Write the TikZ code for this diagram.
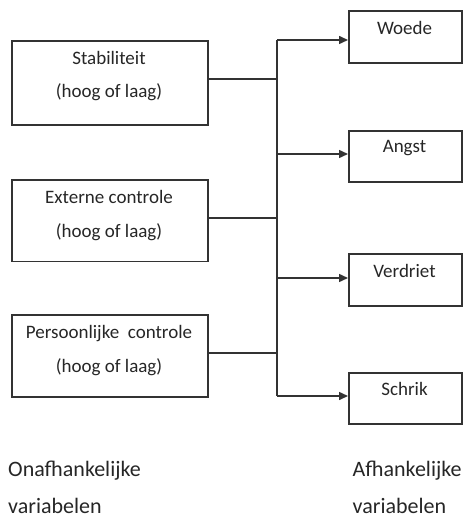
\documentclass[tikz,border=0pt]{standalone}
\usepackage{fontspec}
\setmainfont{Carlito}
\usetikzlibrary{arrows.meta}
\tikzset{
  box/.style={draw=black!80, line width=1.7pt, inner sep=0pt, anchor=north west, minimum width=#1},
  lbl/.style={anchor=base, inner sep=0pt, text=black!85, font=\fontsize{19}{19}\selectfont},
  captxt/.style={anchor=base west, inner sep=0pt, text=black!85, font=\fontsize{22}{22}\selectfont},
  conn/.style={draw=black!80, line width=1.5pt},
  arr/.style={conn, -{Triangle[length=9pt,width=8pt]}}
}
\begin{document}
\begin{tikzpicture}[x=1pt,y=-1pt]
\useasboundingbox (0,0) rectangle (464,518);
% left boxes
\node[box=196pt, minimum height=84pt] (b1) at (11,40) {};
\node[box=196pt, minimum height=81pt] (b2) at (11,179.5) {};
\node[box=196pt, minimum height=82pt] (b3) at (11,314) {};
\node[lbl] (t1a) at (109,65) {Stabiliteit};
\node[lbl] (t1b) at (109,98) {(hoog of laag)};
\node[lbl] (t2a) at (109,204) {Externe controle};
\node[lbl] (t2b) at (109,237.5) {(hoog of laag)};
\node[lbl] (t3a) at (109,338) {Persoonlijke\ \ controle};
\node[lbl] (t3b) at (109,372) {(hoog of laag)};
% right boxes
\node[box=113pt, minimum height=52pt] (r1) at (348,10) {};
\node[box=113pt, minimum height=51pt] (r2) at (348,130) {};
\node[box=113pt, minimum height=52pt] (r3) at (348,253) {};
\node[box=113pt, minimum height=51pt] (r4) at (348,372) {};
\node[lbl] (s1) at (404.5,35) {Woede};
\node[lbl] (s2) at (404.5,153) {Angst};
\node[lbl] (s3) at (404.5,277) {Verdriet};
\node[lbl] (s4) at (404.5,395) {Schrik};
% bus
\coordinate (top) at (277,40);
\coordinate (bot) at (277,396);
\draw[conn] (top) -- (bot);
\draw[conn] (b1.east |- 0,79) -- (top |- 0,79);
\draw[conn] (b2.east |- 0,218) -- (top |- 0,218);
\draw[conn] (b3.east |- 0,353) -- (top |- 0,353);
\draw[arr] (top) -- (r1.west |- top);
\draw[arr] (top |- 0,154) -- (r2.west |- 0,154);
\draw[arr] (top |- 0,278) -- (r3.west |- 0,278);
\draw[arr] (bot) -- (r4.west |- bot);
% captions
\node[captxt] (c1) at (8,476) {Onafhankelijke};
\node[captxt] (c2) at (8,513.5) {variabelen};
\node[captxt] (c3) at (352.5,476) {Afhankelijke};
\node[captxt] (c4) at (352.5,513.5) {variabelen};
\end{tikzpicture}
\end{document}
